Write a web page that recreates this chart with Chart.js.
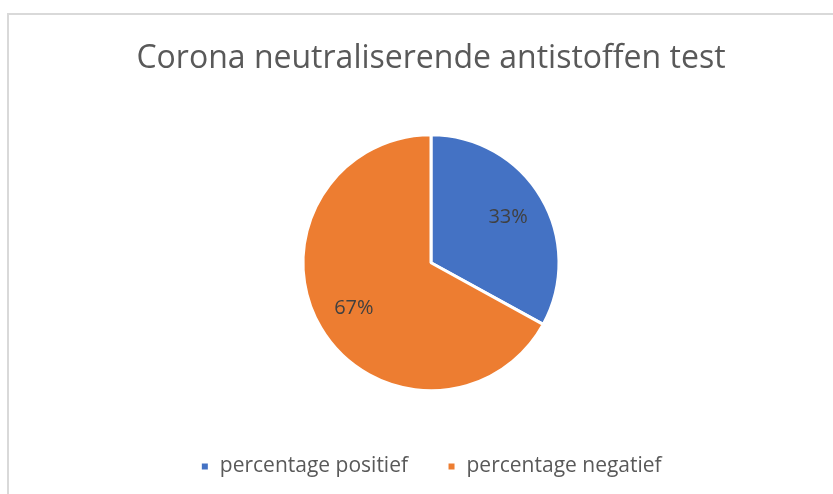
<!DOCTYPE html>
<html>
<head>
<meta charset="utf-8">
<script src="https://cdn.jsdelivr.net/npm/chart.js@4"></script>
<style>
    html, body { margin: 0; padding: 0; background: #fff; overflow: hidden; }
    #wrap { width: 833px; height: 494px; position: relative; }
</style>
</head>
<body>
<div id="wrap"><canvas id="pie-chart"></canvas></div>
<script>
const chartTitle = 'Corona neutraliserende antistoffen test';
const categories = ['percentage positief', 'percentage negatief'];
const values = [33, 67];
const sliceColors = ['#4472C4', '#ED7D31'];

const fontFamily = '"Open Sans", Lato, sans-serif';

// grijze rand rond de grafiek
const frame = {
    id: 'frame',
    beforeDraw(chart) {
        const ctx = chart.ctx;
        ctx.save();
        ctx.strokeStyle = '#d9d9d9';
        ctx.lineWidth = 2;
        ctx.strokeRect(8, 14, 900, 600);
        ctx.restore();
    }
};

// percentages in de taartpunten
const sliceLabels = {
    id: 'sliceLabels',
    afterDatasetsDraw(chart) {
        const ctx = chart.ctx;
        const meta = chart.getDatasetMeta(0);
        const data = chart.data.datasets[0].data;
        const total = data.reduce((a, b) => a + b, 0);
        ctx.save();
        ctx.font = `20px ${fontFamily}`;
        ctx.fillStyle = '#404040';
        ctx.textAlign = 'center';
        ctx.textBaseline = 'middle';
        meta.data.forEach((arc, i) => {
            const mid = (arc.startAngle + arc.endAngle) / 2;
            const r = arc.outerRadius * 0.7;
            const x = arc.x + Math.cos(mid) * r;
            const y = arc.y + Math.sin(mid) * r;
            ctx.fillText(Math.round(data[i] / total * 100) + '%', x, y);
        });
        ctx.restore();
    }
};

const ctx = document.getElementById('pie-chart').getContext('2d');
new Chart(ctx, {
    type: 'pie',
    data: {
        labels: categories,
        datasets: [{
            data: values,
            backgroundColor: sliceColors,
            borderColor: '#ffffff',
            borderWidth: 3,
            radius: 128
        }]
    },
    options: {
        responsive: true,
        maintainAspectRatio: false,
        animation: false,
        layout: {
            padding: { left: 29, right: 0, top: 0, bottom: 7 }
        },
        plugins: {
            title: {
                display: true,
                text: chartTitle,
                color: '#595959',
                font: { family: fontFamily, size: 32, weight: 'normal' },
                padding: { top: 40, bottom: 30 }
            },
            legend: {
                position: 'bottom',
                labels: {
                    color: '#595959',
                    font: { family: fontFamily, size: 21 },
                    boxWidth: 9,
                    boxHeight: 9,
                    padding: 39
                }
            },
            tooltip: { enabled: false }
        }
    },
    plugins: [frame, sliceLabels]
});
</script>
</body>
</html>
